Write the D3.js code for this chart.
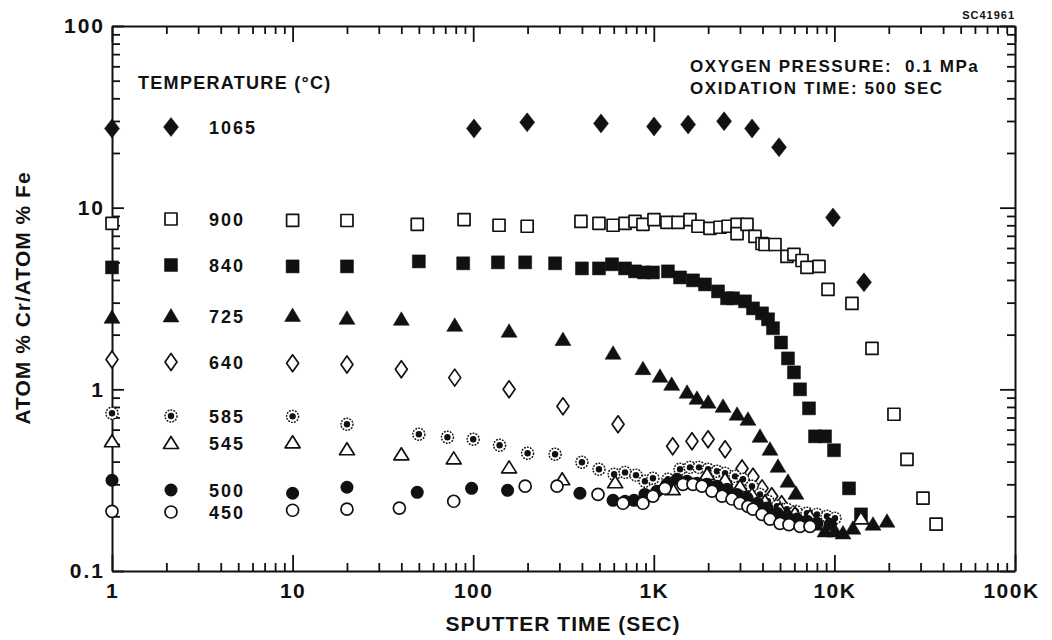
<!DOCTYPE html>
<html lang="en">
<head>
<meta charset="utf-8">
<title>Cr/Fe ratio vs sputter time</title>
<script src="https://cdn.jsdelivr.net/npm/d3@7"></script>
<style>
  body { margin: 0; background: #fff; }
  text { font-family: "Liberation Sans", Arial, sans-serif; font-weight: bold; fill: #111; }
</style>
</head>
<body>
<svg id="chart" width="1052" height="640"></svg>
<script>
// values: [sputter time (s), atom% Cr / atom% Fe]
const s1065 = [[1,27.3],[101,27.3],[199,29.5],[510,29.1],[1003,28.0],[1549,28.7],[2450,29.9],[3500,27.3],[4935,21.5],[9822,8.84],[14580,3.88]];
const s900 = [[1,8.2],[10,8.52],[20,8.5],[49,8.1],[89,8.6],[139,8.0],[199,7.9],[395,8.4],[497,8.2],[595,8.0],[693,8.2],[787,8.4],[871,8.1],[1002,8.6],[1182,8.3],[1362,8.3],[1586,8.6],[1757,7.9],[2047,7.7],[2326,7.8],[2578,7.9],[2891,8.1],[2891,7.2],[3281,8.1],[3633,6.95],[3975,6.35],[4128,6.27],[4689,6.27],[5462,5.39],[5970,5.53],[6617,5.12],[7050,4.69],[8218,4.75],[9216,3.55],[12510,2.97],[16150,1.68],[21370,0.729],[25230,0.412],[30940,0.252],[36560,0.181]];
const s840 = [[1,4.69],[10,4.75],[20,4.75],[50,5.06],[88,4.94],[137,5.0],[194,5.0],[284,4.94],[400,4.63],[497,4.63],[587,4.88],[693,4.63],[787,4.46],[882,4.40],[989,4.40],[1197,4.46],[1397,4.13],[1648,3.98],[1920,3.78],[2267,3.46],[2545,3.17],[2745,3.17],[3200,3.05],[3542,2.79],[3975,2.62],[4290,2.43],[4571,2.17],[5062,1.81],[5532,1.48],[5970,1.24],[6451,1.0],[7233,0.786],[7811,0.551],[8873,0.551],[9947,0.462],[12050,0.285],[14030,0.205]];
const s725 = [[1,2.49],[10,2.55],[20,2.46],[40,2.43],[79,2.25],[158,2.09],[314,1.88],[595,1.58],[871,1.30],[1082,1.18],[1256,1.065],[1528,0.963],[1734,0.892],[2000,0.85],[2418,0.806],[2891,0.729],[3322,0.684],[3874,0.551],[4397,0.468],[4872,0.377],[5532,0.312],[6124,0.268],[7811,0.181],[8873,0.166],[10074,0.166],[11160,0.162],[12670,0.172],[16360,0.181],[19550,0.188]];
const s640 = [[1,1.46],[10,1.39],[20,1.37],[40,1.29],[79,1.16],[158,1.0],[314,0.806],[634,0.642],[1272,0.486],[1627,0.518],[1998,0.531],[2481,0.468],[3080,0.367],[3542,0.33],[3975,0.285],[4500,0.258],[5100,0.233]];
const s585 = [[1,0.738],[10,0.71],[20,0.642],[50,0.566],[72,0.545],[100,0.531],[140,0.492],[200,0.445],[284,0.439],[400,0.397],[497,0.363],[603,0.341],[693,0.349],[797,0.337],[893,0.312],[989,0.324],[1197,0.32],[1397,0.363],[1586,0.372],[1780,0.372],[1998,0.363],[2238,0.354],[2481,0.345],[2818,0.332],[3118,0.32],[3497,0.293],[3874,0.264],[4290,0.242],[4810,0.227],[5462,0.219],[6124,0.213],[7050,0.208],[8011,0.205],[9100,0.2],[10074,0.195]];
const s545 = [[1,0.518],[10,0.511],[20,0.468],[40,0.439],[78,0.417],[158,0.372],[311,0.32],[611,0.308],[1272,0.282],[1972,0.341],[2481,0.32],[3000,0.293],[3497,0.264],[4128,0.242],[4998,0.219],[6046,0.208],[7326,0.2],[14030,0.195]];
const s500 = [[1,0.316],[10,0.268],[20,0.289],[49,0.271],[98,0.285],[155,0.278],[390,0.268],[595,0.245],[693,0.242],[777,0.245],[893,0.264],[1042,0.275],[1182,0.3],[1344,0.32],[1528,0.312],[1734,0.304],[1972,0.3],[2238,0.293],[2545,0.282],[2891,0.264],[3281,0.252],[3750,0.236],[4236,0.222],[4810,0.208],[5462,0.2],[6200,0.193],[7050,0.188],[8011,0.183],[9500,0.181]];
const s450 = [[1,0.213],[10,0.216],[20,0.219],[39,0.222],[78,0.242],[194,0.293],[291,0.293],[491,0.264],[675,0.236],[871,0.236],[989,0.258],[1153,0.285],[1451,0.3],[1648,0.3],[1848,0.293],[2100,0.275],[2387,0.258],[2710,0.249],[3000,0.236],[3322,0.227],[3542,0.219],[3975,0.205],[4397,0.193],[4998,0.183],[5600,0.18],[6451,0.176],[7326,0.176]];

const temps = ["1065","900","840","725","640","585","545","500","450"];
const kinds = ["diamondF","square","squareF","triF","diamondO","dotCircle","triO","circleF","circleO"];
const seriesData = [s1065, s900, s840, s725, s640, s585, s545, s500, s450];

const xTickLabels = {1:"1", 10:"10", 100:"100", 1000:"1K", 10000:"10K", 100000:"100K"};
const yTickLabels = {0.1:"0.1", 1:"1", 10:"10", 100:"100"};

const svg = d3.select("#chart");
const x = d3.scaleLog().domain([1, 1e5]).range([112, 1015]);
const y = d3.scaleLog().domain([0.1, 100]).range([571, 26]);

const isMajor = v => Math.abs(Math.log10(v) - Math.round(Math.log10(v))) < 1e-6;

// axes, ticks pointing inward
function styleAxis(g, majorLen, horizontal) {
  g.select(".domain").attr("stroke", "#111").attr("stroke-width", 2);
  g.selectAll(".tick line").attr("stroke", "#111").attr("stroke-width", 1.8)
    .each(function(d) {
      if (isMajor(d)) d3.select(this).attr(horizontal ? "y2" : "x2", majorLen);
    });
}

const gB = svg.append("g").attr("transform", "translate(0,571)")
  .call(d3.axisBottom(x).tickValues(x.ticks()).tickSizeInner(-8).tickSizeOuter(0).tickPadding(12)
    .tickFormat(d => xTickLabels[d] || ""));
styleAxis(gB, -16, true);
gB.selectAll(".tick text").attr("font-size", 21).attr("letter-spacing", 1.5)
  .attr("font-family", "Liberation Sans, Arial, sans-serif").attr("font-weight", "bold").attr("fill", "#111");
gB.selectAll(".tick").filter(d => d === 100000).select("text").attr("dx", -4);

const gT = svg.append("g").attr("transform", "translate(0,26)")
  .call(d3.axisTop(x).tickValues(x.ticks()).tickSizeInner(-8).tickSizeOuter(0).tickFormat(""));
styleAxis(gT, 16, true);

const gL = svg.append("g").attr("transform", "translate(112,0)")
  .call(d3.axisLeft(y).tickValues(y.ticks()).tickSizeInner(-8).tickSizeOuter(0).tickPadding(7)
    .tickFormat(d => yTickLabels[+d.toPrecision(3)] || ""));
styleAxis(gL, 12, false);
gL.selectAll(".tick text").attr("font-size", 21).attr("letter-spacing", 2)
  .attr("font-family", "Liberation Sans, Arial, sans-serif").attr("font-weight", "bold").attr("fill", "#111");

const gR = svg.append("g").attr("transform", "translate(1015,0)")
  .call(d3.axisRight(y).tickValues(y.ticks()).tickSizeInner(-8).tickSizeOuter(0).tickFormat(""));
styleAxis(gR, -15, false);

// marker shapes
function drawMarker(sel, kind) {
  const paths = {
    diamondF: "M0,-9.5L7.5,0L0,9.5L-7.5,0Z",
    square: "M-6,-6h12v12h-12Z",
    squareF: "M-6.5,-6.5h13v13h-13Z",
    triF: "M0,-7.5L8,6L-8,6Z",
    diamondO: "M0,-8.5L6,0L0,8.5L-6,0Z",
    triO: "M0,-6.5L7.5,5.5L-7.5,5.5Z"
  };
  const filled = kind.endsWith("F");
  if (paths[kind]) {
    sel.append("path").attr("d", paths[kind])
      .attr("fill", filled ? "#111" : "#fff").attr("stroke", "#111")
      .attr("stroke-width", filled ? 0.5 : 1.7).attr("stroke-linejoin", "round");
  } else if (kind === "circleF") {
    sel.append("circle").attr("r", 6.5).attr("fill", "#111");
  } else if (kind === "circleO") {
    sel.append("circle").attr("r", 6).attr("fill", "#fff").attr("stroke", "#111").attr("stroke-width", 1.7);
  } else if (kind === "dotCircle") {
    sel.append("circle").attr("r", 6).attr("fill", "#fff").attr("stroke", "#111")
      .attr("stroke-width", 1.4).attr("stroke-dasharray", "1.8,1.2");
    sel.append("circle").attr("r", 3.2).attr("fill", "#111");
  }
}

const plot = svg.append("g");
seriesData.forEach((data, i) => {
  plot.append("g").selectAll("g").data(data).join("g")
    .attr("transform", d => `translate(${x(d[0])},${y(d[1])})`)
    .each(function() { drawMarker(d3.select(this), kinds[i]); });
});

// legend rows (pixel layout)
const legendRowY = [127, 219, 265, 316, 362, 416, 443, 490, 512];
const legend = svg.append("g");
legend.append("text").attr("x", 138).attr("y", 89).attr("font-size", 18)
  .attr("letter-spacing", 1.3).text("TEMPERATURE (°C)");
temps.forEach((t, i) => {
  const ly = legendRowY[i];
  const g = legend.append("g").attr("transform", `translate(171,${ly})`);
  drawMarker(g, kinds[i]);
  legend.append("text").attr("x", 209).attr("y", ly + 7).attr("font-size", 18)
    .attr("letter-spacing", 2).text(t);
});

// annotations
svg.append("text").attr("x", 690).attr("y", 72).attr("font-size", 17).attr("letter-spacing", 1.6)
  .attr("xml:space", "preserve").text("OXYGEN PRESSURE:  0.1 MPa");
svg.append("text").attr("x", 690).attr("y", 94).attr("font-size", 17).attr("letter-spacing", 1.6)
  .text("OXIDATION TIME: 500 SEC");
svg.append("text").attr("x", 1015).attr("y", 19).attr("font-size", 11).attr("letter-spacing", 1)
  .attr("text-anchor", "end").text("SC41961");

// axis titles
svg.append("text").attr("x", 563).attr("y", 631).attr("text-anchor", "middle")
  .attr("font-size", 21).attr("letter-spacing", 1).text("SPUTTER TIME (SEC)");
svg.append("text").attr("transform", "translate(30,298) rotate(-90)").attr("text-anchor", "middle")
  .attr("font-size", 21).attr("letter-spacing", 1).text("ATOM % Cr/ATOM % Fe");
</script>
</body>
</html>
